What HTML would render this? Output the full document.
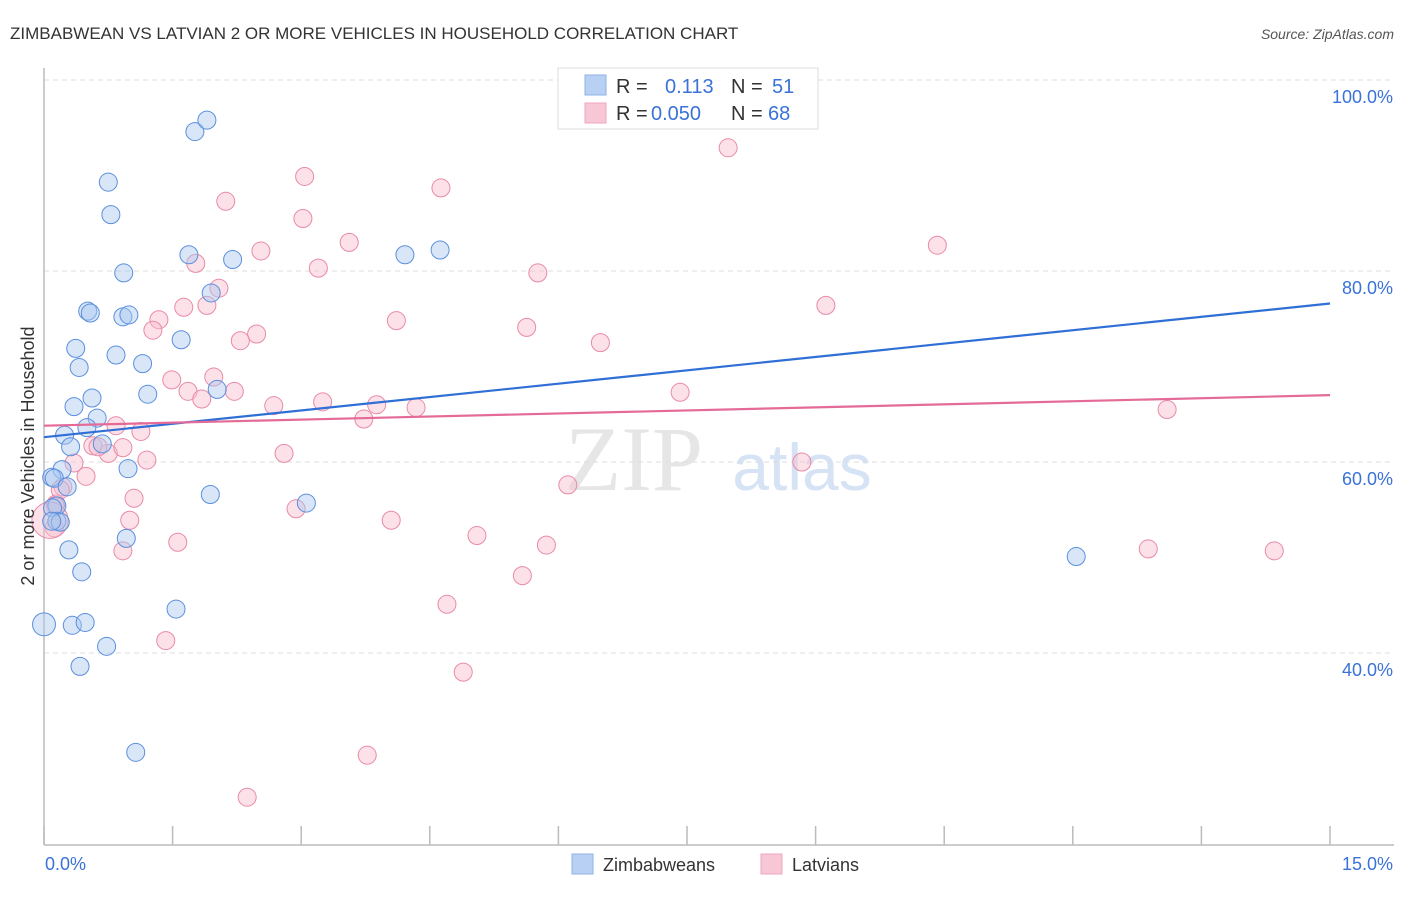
<!DOCTYPE html>
<html><head><meta charset="utf-8"><style>
html,body{margin:0;padding:0;background:#fff;}
body{width:1406px;height:892px;overflow:hidden;font-family:"Liberation Sans",sans-serif;}
svg text{font-family:"Liberation Sans",sans-serif;}
</style></head><body>
<svg id="chart" width="1406" height="892" xmlns="http://www.w3.org/2000/svg">
<text x="10" y="39" font-size="17" fill="#333">ZIMBABWEAN VS LATVIAN 2 OR MORE VEHICLES IN HOUSEHOLD CORRELATION CHART</text>
<text x="1394" y="39" font-size="14" fill="#555" font-style="italic" text-anchor="end">Source: ZipAtlas.com</text>
<g>
<text x="634" y="490" font-size="92" fill="#e6e6e6" text-anchor="middle" font-family="Liberation Serif" style="font-family:'Liberation Serif',serif">ZIP</text>
<text x="802" y="490" font-size="66" fill="#d6e3f5" text-anchor="middle">atlas</text>
</g>
<g id="grid"></g>
<g id="axes"></g>
<g id="points"></g>
<g id="trends"></g>
<text x="34" y="456" font-size="18" fill="#333" text-anchor="middle" transform="rotate(-90 34 456)">2 or more Vehicles in Household</text>
<g>
<rect x="558" y="68" width="260" height="61" fill="#fff" stroke="#ddd"/>
<rect x="585" y="75" width="21" height="20" fill="#b7d0f3" stroke="#8fb2e6"/>
<text x="616" y="93" font-size="20" fill="#333">R = </text>
<text x="665" y="93" font-size="20" fill="#3a72d8">0.113</text>
<text x="731" y="93" font-size="20" fill="#333">N = </text>
<text x="772" y="93" font-size="20" fill="#3a72d8">51</text>
<rect x="585" y="103" width="21" height="20" fill="#f8c7d6" stroke="#f0a5bd"/>
<text x="616" y="120" font-size="20" fill="#333">R = </text>
<text x="651" y="120" font-size="20" fill="#3a72d8">0.050</text>
<text x="731" y="120" font-size="20" fill="#333">N = </text>
<text x="768" y="120" font-size="20" fill="#3a72d8">68</text>
</g>
<g>
<rect x="572" y="854" width="21" height="20" fill="#b7d0f3" stroke="#8fb2e6"/>
<text x="603" y="871" font-size="18" fill="#333">Zimbabweans</text>
<rect x="761" y="854" width="21" height="20" fill="#f8c7d6" stroke="#f0a5bd"/>
<text x="792" y="871" font-size="18" fill="#333">Latvians</text>
</g>
</svg>
<script>
const yTicks=[100,80,60,40];
const yTickLabels=["100.0%","80.0%","60.0%","40.0%"];
const xTicks=[0,1.5,3,4.5,6,7.5,9,10.5,12,13.5,15];
const xLabelMin="0.0%", xLabelMax="15.0%";
const blueX=[1.76,1.90,0.75,0.78,1.69,2.20,0.93,4.21,4.62,1.95,0.51,0.54,0.92,0.99,1.60,0.37,0.84,1.15,0.41,2.02,1.21,0.56,0.35,0.62,0.50,0.24,0.31,0.68,0.21,0.98,0.09,0.12,0.27,1.94,3.06,0.15,0.10,0.15,0.19,0.29,0.96,0.44,1.54,0.00,0.33,0.48,0.73,0.42,1.07,12.04,0.09];
const blueY=[94.6,95.8,89.3,85.9,81.7,81.2,79.8,81.7,82.2,77.7,75.8,75.6,75.2,75.4,72.8,71.9,71.2,70.3,69.9,67.6,67.1,66.7,65.8,64.6,63.6,62.8,61.6,61.9,59.2,59.3,58.4,58.3,57.4,56.6,55.7,55.4,55.2,53.8,53.7,50.8,52.0,48.5,44.6,43.0,42.9,43.2,40.7,38.6,29.6,50.1,53.8];
const blueW=[1,1,1,1,1,1,1,1,1,1,1,1,1,1,1,1,1,1,1,1,1,1,1,1,1,1,1,1,1,1,1,1,1,1,1,1,1,1,1,1,1,1,1,2,1,1,1,1,1,1,1];
const pinkX=[7.98,3.04,4.63,2.12,3.02,3.56,10.42,2.53,1.77,3.20,5.76,2.04,1.63,1.90,1.34,1.27,9.12,4.11,5.63,2.48,2.29,6.49,1.49,1.68,1.98,1.84,2.22,7.42,2.68,3.25,3.88,4.34,3.73,13.10,0.84,1.13,0.57,0.75,0.92,0.63,0.35,1.20,2.80,0.49,0.22,8.84,6.11,1.05,0.14,0.12,2.94,1.00,4.05,5.05,1.56,5.86,0.92,12.88,14.35,5.58,4.70,1.42,4.89,3.77,2.37,0.13,0.19,0.07];
const pinkY=[92.9,89.9,88.7,87.3,85.5,83.0,82.7,82.1,80.8,80.3,79.8,78.2,76.2,76.4,74.9,73.8,76.4,74.8,74.1,73.4,72.7,72.5,68.6,67.4,68.9,66.6,67.4,67.3,65.9,66.3,66.0,65.7,64.5,65.5,63.8,63.2,61.7,60.9,61.5,61.6,59.9,60.2,60.9,58.5,57.4,60.0,57.6,56.2,55.6,53.1,55.1,53.9,53.9,52.3,51.6,51.3,50.7,50.9,50.7,48.1,45.1,41.3,38.0,29.3,24.9,55.4,57.1,53.9];
const pinkW=[1,1,1,1,1,1,1,1,1,1,1,1,1,1,1,1,1,1,1,1,1,1,1,1,1,1,1,1,1,1,1,1,1,1,1,1,1,1,1,1,1,1,1,1,1,1,1,1,1,1,1,1,1,1,1,1,1,1,1,1,1,1,1,1,1,1,1,5];
const blueTrend=[62.6,76.6];
const pinkTrend=[63.8,67.0];

const NS="http://www.w3.org/2000/svg";
const X0=44,X1=1330,Y80=271,PXPER=9.55;
function sx(v){return X0+(v/15)*(X1-X0);}
function sy(v){return Y80+(80-v)*PXPER;}
function mk(tag,attrs,parent){const e=document.createElementNS(NS,tag);for(const k in attrs)e.setAttribute(k,attrs[k]);parent.appendChild(e);return e;}
const grid=document.getElementById('grid'),axes=document.getElementById('axes'),pts=document.getElementById('points'),tr=document.getElementById('trends');
yTicks.forEach((t,i)=>{
  const l=mk('line',{x1:44,x2:1394,y1:sy(t),y2:sy(t),stroke:'#ddd','stroke-dasharray':'5,4'},grid);
  
  
  const tx=mk('text',{x:1393,y:sy(t)+23,'font-size':18,fill:'#3a72d8','text-anchor':'end'},axes);
  tx.textContent=yTickLabels[i];
  
  
});
const ya=mk('line',{x1:44,x2:44,y1:68,y2:845,stroke:'#bbb','stroke-width':1.5},axes);


const xa=mk('line',{x1:44,x2:1394,y1:845,y2:845,stroke:'#bbb','stroke-width':1.5},axes);


xTicks.forEach(t=>{
  const l=mk('line',{x1:sx(t),x2:sx(t),y1:826,y2:845,stroke:'#bbb','stroke-width':1.5},axes);
  
  
});
const xl0=mk('text',{x:45,y:870,'font-size':18,fill:'#3a72d8'},axes);xl0.textContent=xLabelMin;


const xl1=mk('text',{x:1393,y:870,'font-size':18,fill:'#3a72d8','text-anchor':'end'},axes);xl1.textContent=xLabelMax;


function drawSeries(xs,ys,ws,fill,stroke,name){
  xs.forEach((x,i)=>{
    const r=9*Math.sqrt(ws[i])*(ws[i]>1?0.9:1);
    const c=mk('circle',{cx:sx(x),cy:sy(ys[i]),r:r,fill:fill,stroke:stroke,'stroke-width':1,'fill-opacity':0.45},pts);
    
    
  });
}
drawSeries(pinkX,pinkY,pinkW,'#f8bccf','#e98aa8','point-latvians');
drawSeries(blueX,blueY,blueW,'#a9c8f0','#5b8fdd','point-zimbabweans');
const bl=mk('line',{x1:sx(0),y1:sy(blueTrend[0]),x2:sx(15),y2:sy(blueTrend[1]),stroke:'#2f6fd6','stroke-width':2.2},tr);


const pl=mk('line',{x1:sx(0),y1:sy(pinkTrend[0]),x2:sx(15),y2:sy(pinkTrend[1]),stroke:'#e46a97','stroke-width':2.2},tr);


</script>
</body></html>
